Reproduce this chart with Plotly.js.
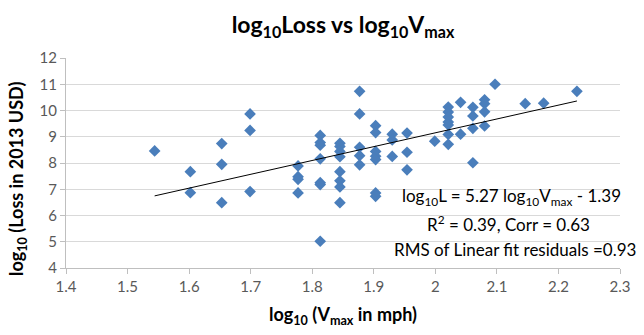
<!DOCTYPE html>
<html>
<head>
<meta charset="utf-8">
<script src="https://cdn.plot.ly/plotly-3.0.1.min.js"></script>
<style>html,body{margin:0;padding:0;background:#fff;}#chart{width:644px;height:335px;}</style>
</head>
<body>
<div id="chart"></div>
<script>
// log10(Vmax in mph)
const logVmax = [
  1.544,
  1.602, 1.602,
  1.653, 1.653, 1.653,
  1.699, 1.699, 1.699,
  1.777, 1.777, 1.777, 1.777,
  1.813, 1.813, 1.813, 1.813, 1.813, 1.813, 1.813,
  1.845, 1.845, 1.845, 1.845, 1.845, 1.845, 1.845, 1.845,
  1.877, 1.877, 1.877, 1.877, 1.877,
  1.903, 1.903, 1.903, 1.903, 1.903, 1.903, 1.903,
  1.930, 1.930, 1.930,
  1.954, 1.954, 1.954,
  1.999,
  2.021, 2.021, 2.021, 2.021, 2.021, 2.021, 2.021,
  2.041, 2.041,
  2.061, 2.061, 2.061, 2.061,
  2.080, 2.080, 2.080, 2.080,
  2.097,
  2.146,
  2.176,
  2.230
];
// log10(Loss in 2013 USD)
const logLoss = [
  8.46,
  7.67, 6.87,
  8.74, 7.95, 6.49,
  9.87, 9.24, 6.91,
  7.89, 7.48, 7.38, 6.86,
  9.05, 8.78, 8.68, 8.16, 7.25, 7.18, 5.02,
  8.75, 8.63, 8.44, 8.24, 7.67, 7.32, 7.09, 6.49,
  10.73, 9.87, 8.60, 8.28, 7.93,
  9.42, 9.16, 8.44, 8.26, 8.13, 6.86, 6.73,
  9.10, 8.88, 8.25,
  9.14, 8.41, 7.74,
  8.83,
  10.13, 9.94, 9.75, 9.56, 9.45, 9.09, 8.71,
  10.31, 9.10,
  10.12, 9.79, 9.32, 8.01,
  10.41, 10.26, 9.95, 9.41,
  11.00,
  10.26,
  10.28,
  10.73
];
// linear fit: log10L = slope * log10Vmax + intercept
const fitSlope = 5.27;
const fitIntercept = -1.39;
const xTickVals = [1.4, 1.5, 1.6, 1.7, 1.8, 1.9, 2.0, 2.1, 2.2, 2.3];
const xTickText = ["1.4", "1.5", "1.6", "1.7", "1.8", "1.9", "2", "2.1", "2.2", "2.3"];
const yTickVals = [4, 5, 6, 7, 8, 9, 10, 11, 12];

const xMin = Math.min(...logVmax), xMax = Math.max(...logVmax);
const fitX = [xMin, xMax];
const fitY = fitX.map(v => fitSlope * v + fitIntercept);

const font = "Lato, 'Liberation Sans', sans-serif";

const traces = [
  {
    x: logVmax, y: logLoss, type: "scatter", mode: "markers",
    marker: {symbol: "diamond", size: 9, color: "#4a7ebb", line: {width: 0}},
    hoverinfo: "x+y", showlegend: false
  },
  {
    x: fitX, y: fitY, type: "scatter", mode: "lines",
    line: {color: "#000000", width: 1}, hoverinfo: "skip", showlegend: false
  }
];

const layout = {
  width: 644, height: 335,
  margin: {l: 66, r: 24, t: 58, b: 67},
  paper_bgcolor: "#ffffff", plot_bgcolor: "#ffffff",
  font: {family: font, size: 15, color: "#595959"},
  title: {
    text: "<b>log<sub>10</sub>Loss vs log<sub>10</sub>V<sub>max</sub></b>",
    font: {family: font, size: 23, color: "#000000"},
    x: 0.5, xref: "paper", xanchor: "center",
    y: 0.925, yref: "container", yanchor: "middle"
  },
  xaxis: {
    range: [1.4, 2.3], tickvals: xTickVals, ticktext: xTickText,
    showgrid: false, zeroline: false,
    showline: true, linecolor: "#bfbfbf", linewidth: 1,
    ticks: "outside", ticklen: 5, tickcolor: "#bfbfbf",
    tickfont: {family: font, size: 15, color: "#595959"},
    title: {text: "<b>log<sub>10</sub> (V<sub>max</sub> in mph)</b>",
            font: {family: font, size: 18, color: "#000000"}, standoff: 14}
  },
  yaxis: {
    range: [4, 12], tickvals: yTickVals,
    showgrid: true, gridcolor: "#d9d9d9", gridwidth: 1, zeroline: false,
    showline: true, linecolor: "#bfbfbf", linewidth: 1,
    ticks: "outside", ticklen: 5, tickcolor: "#bfbfbf",
    tickfont: {family: font, size: 15, color: "#595959"}
  },
  annotations: [
    {text: "<b>log<sub>10</sub> (Loss in 2013 USD)</b>", textangle: -90,
     xref: "paper", yref: "paper", x: -0.088, y: 0.42, xanchor: "center", yanchor: "middle",
     showarrow: false, font: {family: font, size: 18, color: "#000000"}},
    {text: "log<sub>10</sub>L = 5.27 log<sub>10</sub>V<sub>max</sub> - 1.39",
     xref: "paper", yref: "paper", x: 0.805, y: 0.34, xanchor: "center", yanchor: "middle",
     showarrow: false, font: {family: font, size: 17, color: "#000000"}},
    {text: "R<sup>2</sup> = 0.39, Corr = 0.63",
     xref: "paper", yref: "paper", x: 0.799, y: 0.213, xanchor: "center", yanchor: "middle",
     showarrow: false, font: {family: font, size: 17, color: "#000000"}},
    {text: "RMS of Linear fit residuals =0.93",
     xref: "paper", yref: "paper", x: 0.81, y: 0.086, xanchor: "center", yanchor: "middle",
     showarrow: false, font: {family: font, size: 17, color: "#000000"}}
  ]
};
// y title centre: pixel x≈17, y≈179 → paper coords
layout.annotations[0].x = (17 - 66) / 554;
layout.annotations[0].y = (268 - 179) / 210;

Plotly.newPlot("chart", traces, layout, {displayModeBar: false, staticPlot: true});
</script>
</body>
</html>
